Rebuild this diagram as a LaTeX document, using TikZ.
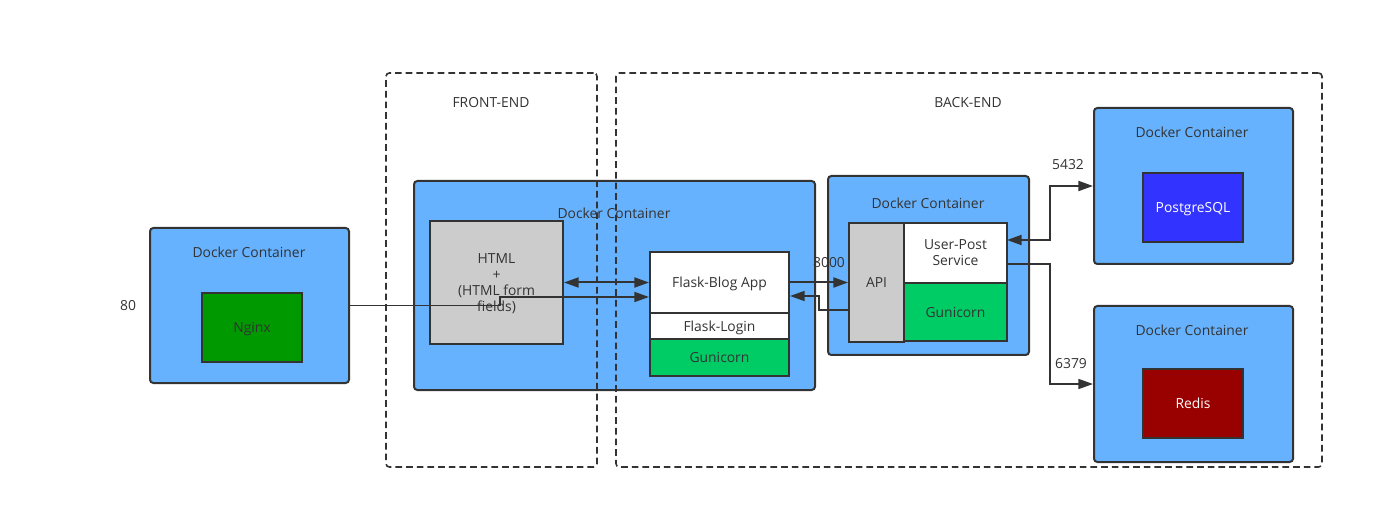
\documentclass[tikz,border=0pt]{standalone}
\usepackage{fontspec}
\setmainfont{Open Sans}
\usetikzlibrary{arrows.meta}
\definecolor{ink}{HTML}{333333}
\definecolor{contblue}{HTML}{66B2FF}
\definecolor{ngxgreen}{HTML}{009900}
\definecolor{gunigreen}{HTML}{00CC66}
\definecolor{boxgray}{HTML}{CCCCCC}
\definecolor{pgblue}{HTML}{3333FF}
\definecolor{redisred}{HTML}{990000}
\tikzset{
  sz/.style 2 args={minimum width=#1*0.75pt, minimum height=#2*0.75pt},
  container/.style={draw=ink, fill=contblue, line width=1.5pt, rounded corners=2.5pt, inner sep=0pt},
  part/.style={draw=ink, line width=1.5pt, inner sep=0pt, align=center, text=ink, text depth=0pt},
  zone/.style={draw=ink, line width=1.2pt, dash pattern=on 5pt off 3pt, rounded corners=2.5pt, inner sep=0pt},
  lbl/.style={text=ink, inner sep=0.75pt},
  link/.style={draw=ink, line width=1.5pt, -{Triangle[length=11pt,width=7.5pt]}},
  thinlink/.style={link, line width=1.3pt},
  both/.style={{Triangle[length=11pt,width=7.5pt]}-{Triangle[length=11pt,width=7.5pt]}},
}
\begin{document}
\begin{tikzpicture}[x=0.75pt,y=0.75pt,yscale=-1,xscale=1,font=\fontsize{10.4}{12}\selectfont]
        \useasboundingbox (0,0) rectangle (1383,530);
        % Docker containers
        \node [container, sz={199}{155}] (nginxct) at (249.5,305.5) {};
        \node [container, sz={401}{209}] (flaskct) at (614.5,285.5) {};
        \node [container, sz={201}{179}] (apict) at (928.5,265.5) {};
        \node [container, sz={199}{156}] (pgct) at (1193.5,186) {};
        \node [container, sz={199}{156}] (redisct) at (1193.5,384) {};
        % Front-end / back-end zones
        \node [zone, sz={211}{394}] (frontend) at (491.5,270) {};
        \node [zone, sz={706}{394}] (backend) at (969,270) {};
        \draw (491,103) node [lbl] (frontlbl) {FRONT-END};
        \draw (968,103) node [lbl] (backlbl) {BACK-END};
        % Container titles
        \draw (249,252) node [lbl] (nginxtitle) {Docker Container};
        \draw (614,213) node [lbl] (flasktitle) {Docker Container};
        \draw (928,203) node [lbl] (apititle) {Docker Container};
        \draw (1192,132) node [lbl] (pgtitle) {Docker Container};
        \draw (1192,330) node [lbl] (redistitle) {Docker Container};
        % Services
        \node [part, fill=ngxgreen, sz={100}{69}] (nginx) at (252,327.5) {Nginx};
        \node [part, fill=boxgray, sz={133}{123}] (html) at (496.5,282.5) {HTML\\+\\(HTML form\\fields)};
        \node [part, fill=white, sz={139}{61}] (flaskblog) at (719.5,282.5) {Flask-Blog App};
        \node [part, fill=white, sz={139}{26}] (flasklogin) at (719.5,326) {Flask-Login};
        \node [part, fill=gunigreen, sz={139}{37}] (gunicorna) at (719.5,357.5) {Gunicorn};
        \node [part, fill=boxgray, sz={55}{119}] (api) at (876.5,282.5) {API};
        \node [part, fill=white, sz={103}{60}] (userpost) at (955.5,253) {User-Post\\Service};
        \node [part, fill=gunigreen, sz={103}{58}] (gunicornb) at (955.5,312) {Gunicorn};
        \node [part, fill=pgblue, text=white, sz={100}{69}] (postgres) at (1193,207.5) {PostgreSQL};
        \node [part, fill=redisred, text=white, sz={100}{69}] (redis) at (1193,403.5) {Redis};
        % Port labels
        \draw (128,306) node [lbl] (port80) {80};
        \draw (829,263) node [lbl] (port8000) {8000};
        \draw (1068,165) node [lbl] (port5432) {5432};
        \draw (1071,364) node [lbl] (port6379) {6379};
        % Connectors
        \coordinate (ngxbend) at (500,297);
        \draw [thinlink] (nginxct.east) -- (nginxct.east -| ngxbend) -- (ngxbend) -- (ngxbend -| flaskblog.west);
        \draw [link, both] (html.east) -- (flaskblog.west);
        \draw [link] (flaskblog.east) -- (api.west);
        \coordinate (apiret) at (849,310);
        \coordinate (retbend) at (819,296);
        \draw [link] (apiret) -| (retbend) -- (retbend -| flaskblog.east);
        \coordinate (pgout) at (1007,240);
        \coordinate (pgbend) at (1050,186);
        \draw [link, both] (pgout) -| (pgbend) -- (pgct.west);
        \coordinate (rdout) at (1007,264);
        \coordinate (rdbend) at (1050,384);
        \draw [thinlink] (rdout) -| (rdbend) -- (redisct.west);
    \end{tikzpicture}
\end{document}
